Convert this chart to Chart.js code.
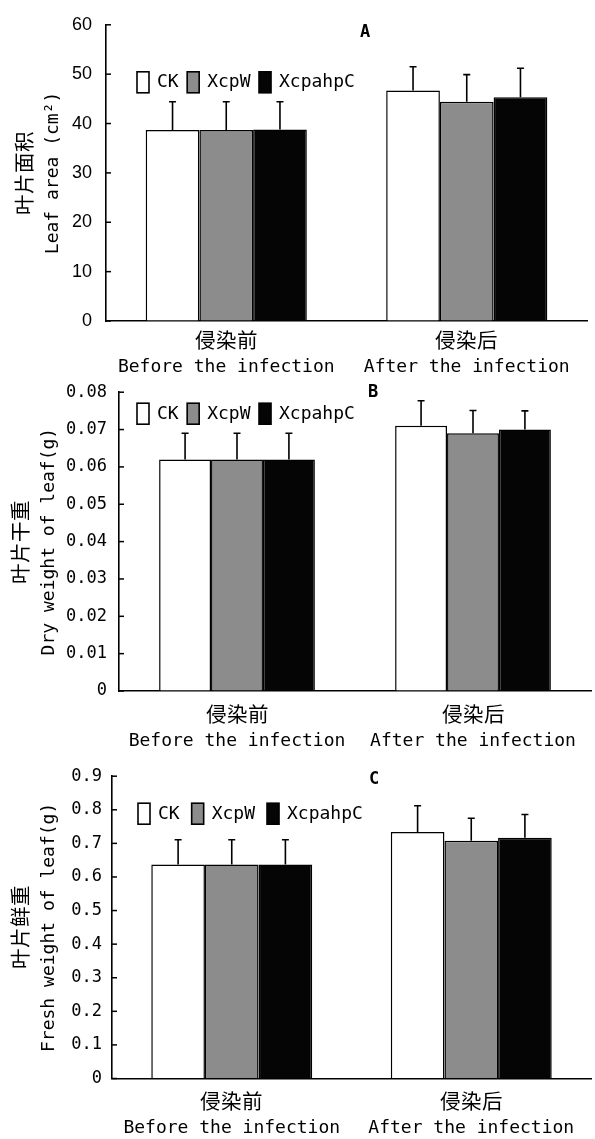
<!DOCTYPE html>
<html>
<head>
<meta charset="utf-8">
<script src="https://cdn.jsdelivr.net/npm/chart.js@4.4.1/dist/chart.umd.min.js"></script>
<style>
  @font-face {
    font-family: 'CJKBig';
    src: local('Noto Sans CJK SC'), local('Noto Sans CJK SC Regular'), local('NotoSansCJKsc-Regular');
    size-adjust: 114%;
  }
  html, body { margin: 0; padding: 0; background: #fff; }
  body { position: relative; width: 595px; height: 1139px; overflow: hidden; }
  .panel { position: absolute; left: 0; width: 595px; }
</style>
</head>
<body>
<div class="panel" style="top:0;height:380px"><canvas id="chartA"></canvas></div>
<div class="panel" style="top:370px;height:380px"><canvas id="chartB"></canvas></div>
<div class="panel" style="top:756px;height:383px"><canvas id="chartC"></canvas></div>
<script>
const categories = [['侵染前', 'Before the infection'], ['侵染后', 'After the infection']];
const seriesNames = ['CK', 'XcpW', 'XcpahpC'];
const seriesColors = ['#ffffff', '#8c8c8c', '#050505'];

// one row per treatment: [before, after]
const areaMeans = [[38.7, 46.7], [38.7, 44.4], [38.8, 45.3]];
const areaErrors = [[5.7, 4.8], [5.7, 5.5], [5.6, 5.9]];

const dryMeans = [[0.062, 0.071], [0.062, 0.069], [0.062, 0.070]];
const dryErrors = [[0.007, 0.0067], [0.007, 0.0061], [0.007, 0.005]];

const freshMeans = [[0.637, 0.734], [0.637, 0.708], [0.637, 0.717]];
const freshErrors = [[0.074, 0.078], [0.074, 0.067], [0.074, 0.069]];

const MONO = "'DejaVu Sans Mono', CJKBig, 'Noto Sans CJK SC', sans-serif";

// error bars, only the upper half
const errorBars = {
  id: 'errorBars',
  afterDatasetsDraw(chart) {
    const ctx = chart.ctx, y = chart.scales.y;
    ctx.save();
    ctx.strokeStyle = '#000';
    ctx.lineWidth = 1.6;
    chart.data.datasets.forEach((ds, i) => {
      chart.getDatasetMeta(i).data.forEach((bar, j) => {
        const top = y.getPixelForValue(ds.data[j] + ds.errors[j]);
        ctx.beginPath();
        ctx.moveTo(bar.x, bar.y);
        ctx.lineTo(bar.x, top);
        ctx.moveTo(bar.x - 3.5, top);
        ctx.lineTo(bar.x + 3.5, top);
        ctx.stroke();
      });
    });
    ctx.restore();
  }
};

// tick marks pointing into the plot
const innerTicks = {
  id: 'innerTicks',
  afterDraw(chart) {
    const ctx = chart.ctx, y = chart.scales.y, x0 = chart.chartArea.left;
    ctx.save();
    ctx.strokeStyle = '#000';
    ctx.lineWidth = 1.5;
    y.ticks.forEach((t, i) => {
      const py = y.getPixelForTick(i);
      ctx.beginPath();
      ctx.moveTo(x0, py);
      ctx.lineTo(x0 + 5, py);
      ctx.stroke();
    });
    ctx.restore();
  }
};

// legend inside the plot + panel letter
const panelLegend = {
  id: 'panelLegend',
  afterDraw(chart, args, opts) {
    const ctx = chart.ctx;
    ctx.save();
    ctx.font = '18px ' + MONO;
    ctx.textBaseline = 'middle';
    let x = opts.x;
    const top = chart.chartArea.top + opts.top;
    chart.data.datasets.forEach(ds => {
      ctx.fillStyle = ds.backgroundColor;
      ctx.fillRect(x, top, 12, 21);
      ctx.strokeStyle = '#000';
      ctx.lineWidth = 1.6;
      ctx.strokeRect(x, top, 12, 21);
      ctx.fillStyle = '#000';
      ctx.fillText(ds.label, x + 20, top + 11);
      x += 20 + ctx.measureText(ds.label).width + opts.gap;
    });
    ctx.font = 'bold 17px ' + MONO;
    ctx.textAlign = 'center';
    ctx.fillText(opts.letter, opts.letterX, opts.letterY);
    ctx.restore();
  }
};

function makeChart(id, means, errors, cfg) {
  return new Chart(document.getElementById(id), {
    type: 'bar',
    data: {
      labels: categories,
      datasets: seriesNames.map((name, i) => ({
        label: name,
        data: means[i],
        errors: errors[i],
        backgroundColor: seriesColors[i],
        borderColor: '#000',
        borderWidth: 1.5,
        categoryPercentage: cfg.catPct,
        barPercentage: 1
      }))
    },
    options: {
      responsive: true,
      maintainAspectRatio: false,
      animation: false,
      layout: { padding: { top: 16, right: cfg.right, left: 0, bottom: 0 } },
      plugins: {
        legend: { display: false },
        tooltip: { enabled: false },
        panelLegend: cfg.legend
      },
      scales: {
        x: {
          grid: { drawOnChartArea: false, drawTicks: false },
          border: { color: '#000', width: 1.6 },
          ticks: {
            color: '#000',
            font: { family: MONO, size: 18, lineHeight: 1.333 },
            padding: cfg.xPad,
            maxRotation: 0,
            minRotation: 0,
            autoSkip: false
          },
          afterFit: s => { s.height = cfg.xHeight; }
        },
        y: {
          min: 0,
          max: cfg.max,
          grid: { drawOnChartArea: false, drawTicks: false },
          border: { color: '#000', width: 1.6 },
          ticks: {
            stepSize: cfg.step,
            color: '#000',
            font: cfg.tickFont,
            padding: cfg.yPad,
            callback: cfg.fmt
          },
          title: {
            display: true,
            text: cfg.title,
            color: '#000',
            font: { family: MONO, size: 18, lineHeight: 1.45 },
            padding: { top: cfg.titlePad, bottom: 0 }
          },
          afterFit: s => { s.width = cfg.axisX; }
        }
      }
    },
    plugins: [errorBars, innerTicks, panelLegend]
  });
}

function drawAll() {
  makeChart('chartA', areaMeans, areaErrors, {
    max: 60, step: 10, fmt: v => String(v),
    tickFont: { family: "'Liberation Sans', Arial, sans-serif", size: 18 },
    title: ['叶片面积', 'Leaf area (cm²)'],
    axisX: 106, right: 8, catPct: 0.67, xHeight: 59, xPad: 10, yPad: 14, titlePad: 14,
    legend: { x: 137, top: 47, gap: 8.5, letter: 'A', letterX: 365, letterY: 33 }
  });

  makeChart('chartB', dryMeans, dryErrors, {
    max: 0.08, step: 0.01, fmt: v => v === 0 ? '0' : v.toFixed(2),
    tickFont: { family: MONO, size: 17 },
    title: ['叶片干重', 'Dry weight of leaf(g)'],
    axisX: 119, right: 4, catPct: 0.66, xHeight: 59, xPad: 14, yPad: 12, titlePad: 10,
    legend: { x: 137, top: 11, gap: 8.5, letter: 'B', letterX: 373, letterY: 23 }
  });

  makeChart('chartC', freshMeans, freshErrors, {
    max: 0.9, step: 0.1, fmt: v => v === 0 ? '0' : v.toFixed(1),
    tickFont: { family: MONO, size: 17 },
    title: ['叶片鲜重', 'Fresh weight of leaf(g)'],
    axisX: 112, right: 4, catPct: 0.672, xHeight: 60.5, xPad: 14, yPad: 10, titlePad: 10,
    legend: { x: 138, top: 27, gap: 12, letter: 'C', letterX: 374, letterY: 24 }
  });
}

document.fonts.load('18px CJKBig', '侵染前后叶片面积干鲜重')
  .catch(() => {})
  .then(drawAll);
</script>
</body>
</html>
